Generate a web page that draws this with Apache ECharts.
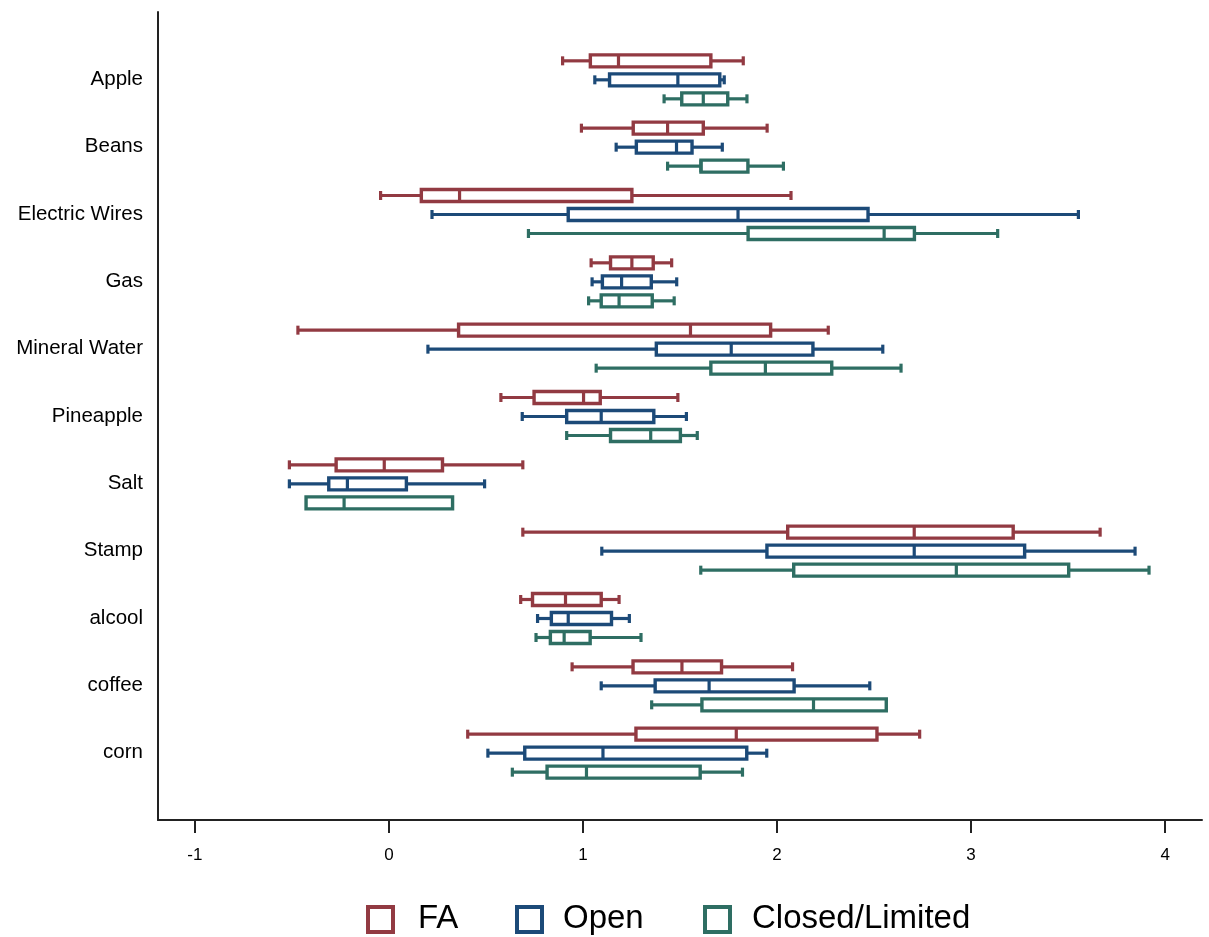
<!DOCTYPE html>
<html>
<head>
<meta charset="utf-8">
<script src="https://cdn.jsdelivr.net/npm/echarts@6/dist/echarts.min.js"></script>
<style>html,body{margin:0;padding:0;background:#fff;}#chart{width:1209px;height:937px;}</style>
</head>
<body>
<div id="chart"></div>
<script>
// Categories (top to bottom)
const categories = ['Apple','Beans','Electric Wires','Gas','Mineral Water','Pineapple','Salt','Stamp','alcool','coffee','corn'];
// Series names
const seriesNames = ['FA','Open','Closed/Limited'];
// Box stats per category: [low whisker, Q1, median, Q3, high whisker]
const faStats = [
  [0.895, 1.038, 1.183, 1.659, 1.826],
  [0.992, 1.259, 1.436, 1.620, 1.949],
  [-0.043, 0.167, 0.364, 1.252, 2.072],
  [1.042, 1.142, 1.252, 1.362, 1.457],
  [-0.469, 0.359, 1.554, 1.967, 2.264],
  [0.577, 0.748, 1.003, 1.089, 1.489],
  [-0.513, -0.272, -0.024, 0.276, 0.690],
  [0.690, 2.055, 2.707, 3.217, 3.665],
  [0.679, 0.740, 0.910, 1.094, 1.186],
  [0.944, 1.258, 1.510, 1.714, 2.080],
  [0.406, 1.273, 1.790, 2.515, 2.735]
];
const openStats = [
  [1.061, 1.137, 1.489, 1.705, 1.728],
  [1.171, 1.275, 1.482, 1.562, 1.718],
  [0.222, 0.924, 1.799, 2.469, 3.553],
  [1.047, 1.100, 1.199, 1.352, 1.483],
  [0.201, 1.378, 1.764, 2.185, 2.545],
  [0.687, 0.916, 1.094, 1.365, 1.533],
  [-0.513, -0.310, -0.214, 0.090, 0.493],
  [1.097, 1.948, 2.707, 3.276, 3.845],
  [0.766, 0.837, 0.924, 1.147, 1.239],
  [1.094, 1.372, 1.650, 2.088, 2.478],
  [0.510, 0.700, 1.103, 1.844, 1.947]
];
const closedStats = [
  [1.418, 1.509, 1.620, 1.746, 1.845],
  [1.436, 1.608, 1.608, 1.850, 2.033],
  [0.719, 1.851, 2.552, 2.708, 3.137],
  [1.029, 1.094, 1.186, 1.357, 1.470],
  [1.068, 1.659, 1.940, 2.282, 2.639],
  [0.916, 1.142, 1.349, 1.502, 1.589],
  [-0.427, -0.427, -0.231, 0.328, 0.328],
  [1.607, 2.086, 2.924, 3.503, 3.917],
  [0.758, 0.832, 0.903, 1.037, 1.299],
  [1.354, 1.613, 2.188, 2.563, 2.563],
  [0.636, 0.815, 1.018, 1.604, 1.822]
];
// x axis tick values
const xTicks = [-1, 0, 1, 2, 3, 4];

const colors = ['#923a42', '#1c4a78', '#2e6e63'];
const offsets = [-19, 0, 19];
const allStats = [faStats, openStats, closedStats];

function makeRender(si) {
  return function (params, api) {
    const cat = api.value(0);
    const lo = api.value(1), q1 = api.value(2), med = api.value(3), q3 = api.value(4), hi = api.value(5);
    const yc = api.coord([0, cat + 1])[1] + offsets[si] + 0.5;
    const xl = api.coord([lo, 0])[0], x1 = api.coord([q1, 0])[0], xm = api.coord([med, 0])[0];
    const x3 = api.coord([q3, 0])[0], xh = api.coord([hi, 0])[0];
    const c = colors[si];
    const bh = 12, ch = 9;
    const lw = 3.2;
    const children = [];
    if (x1 - xl > 0.5) {
      children.push({type: 'line', shape: {x1: xl, y1: yc, x2: x1, y2: yc}, style: {stroke: c, lineWidth: lw}});
      children.push({type: 'line', shape: {x1: xl, y1: yc - ch / 2, x2: xl, y2: yc + ch / 2}, style: {stroke: c, lineWidth: lw}});
    }
    if (xh - x3 > 0.5) {
      children.push({type: 'line', shape: {x1: x3, y1: yc, x2: xh, y2: yc}, style: {stroke: c, lineWidth: lw}});
      children.push({type: 'line', shape: {x1: xh, y1: yc - ch / 2, x2: xh, y2: yc + ch / 2}, style: {stroke: c, lineWidth: lw}});
    }
    children.push({type: 'rect', shape: {x: x1, y: yc - bh / 2, width: x3 - x1, height: bh}, style: {fill: '#fff', stroke: c, lineWidth: 3.4}});
    children.push({type: 'line', shape: {x1: xm, y1: yc - bh / 2, x2: xm, y2: yc + bh / 2}, style: {stroke: c, lineWidth: lw}});
    return {type: 'group', children: children};
  };
}

const series = seriesNames.map((name, si) => ({
  name: name,
  type: 'custom',
  renderItem: makeRender(si),
  encode: {x: [1, 2, 3, 4, 5], y: 0},
  data: allStats[si].map((s, i) => [i].concat(s)),
  clip: false
}));

// Legend built as graphic (hollow squares + text)
const legendItems = [
  {x: 366, tx: 418},
  {x: 515, tx: 563},
  {x: 703, tx: 752}
];
const graphic = [];
seriesNames.forEach((name, i) => {
  graphic.push({type: 'rect', left: legendItems[i].x, top: 905, shape: {width: 25, height: 25},
    style: {fill: '#fff', stroke: colors[i], lineWidth: 4}});
  graphic.push({type: 'text', left: legendItems[i].tx, top: 902,
    style: {text: name, fill: '#000', font: '33px "Liberation Sans", Arial, sans-serif'}});
});

const chart = echarts.init(document.getElementById('chart'), null, {renderer: 'canvas'});
chart.setOption({
  animation: false,
  backgroundColor: '#fff',
  grid: {left: 158, right: 7, top: 12, bottom: 117, containLabel: false},
  xAxis: {
    type: 'value', min: -1.19, max: 4.19,
    splitLine: {show: false},
    axisLine: {show: true, onZero: false, lineStyle: {color: '#222', width: 2}},
    axisTick: {show: true, length: 13, lineStyle: {color: '#222', width: 2},
      customValues: xTicks},
    axisLabel: {customValues: xTicks, margin: 27, color: '#000', fontSize: 17,
      fontFamily: '"Liberation Sans", Arial, sans-serif',
      formatter: v => String(v)}
  },
  yAxis: {
    type: 'value', min: 0, max: 12, interval: 1, inverse: true,
    splitLine: {show: false},
    axisLine: {show: true, onZero: false, lineStyle: {color: '#222', width: 2}},
    axisTick: {show: false},
    axisLabel: {margin: 15, color: '#000', fontSize: 20.5,
      fontFamily: '"Liberation Sans", Arial, sans-serif',
      formatter: v => (v >= 1 && v <= categories.length) ? categories[v - 1] : ''}
  },
  graphic: graphic,
  series: series
});
</script>
</body>
</html>
